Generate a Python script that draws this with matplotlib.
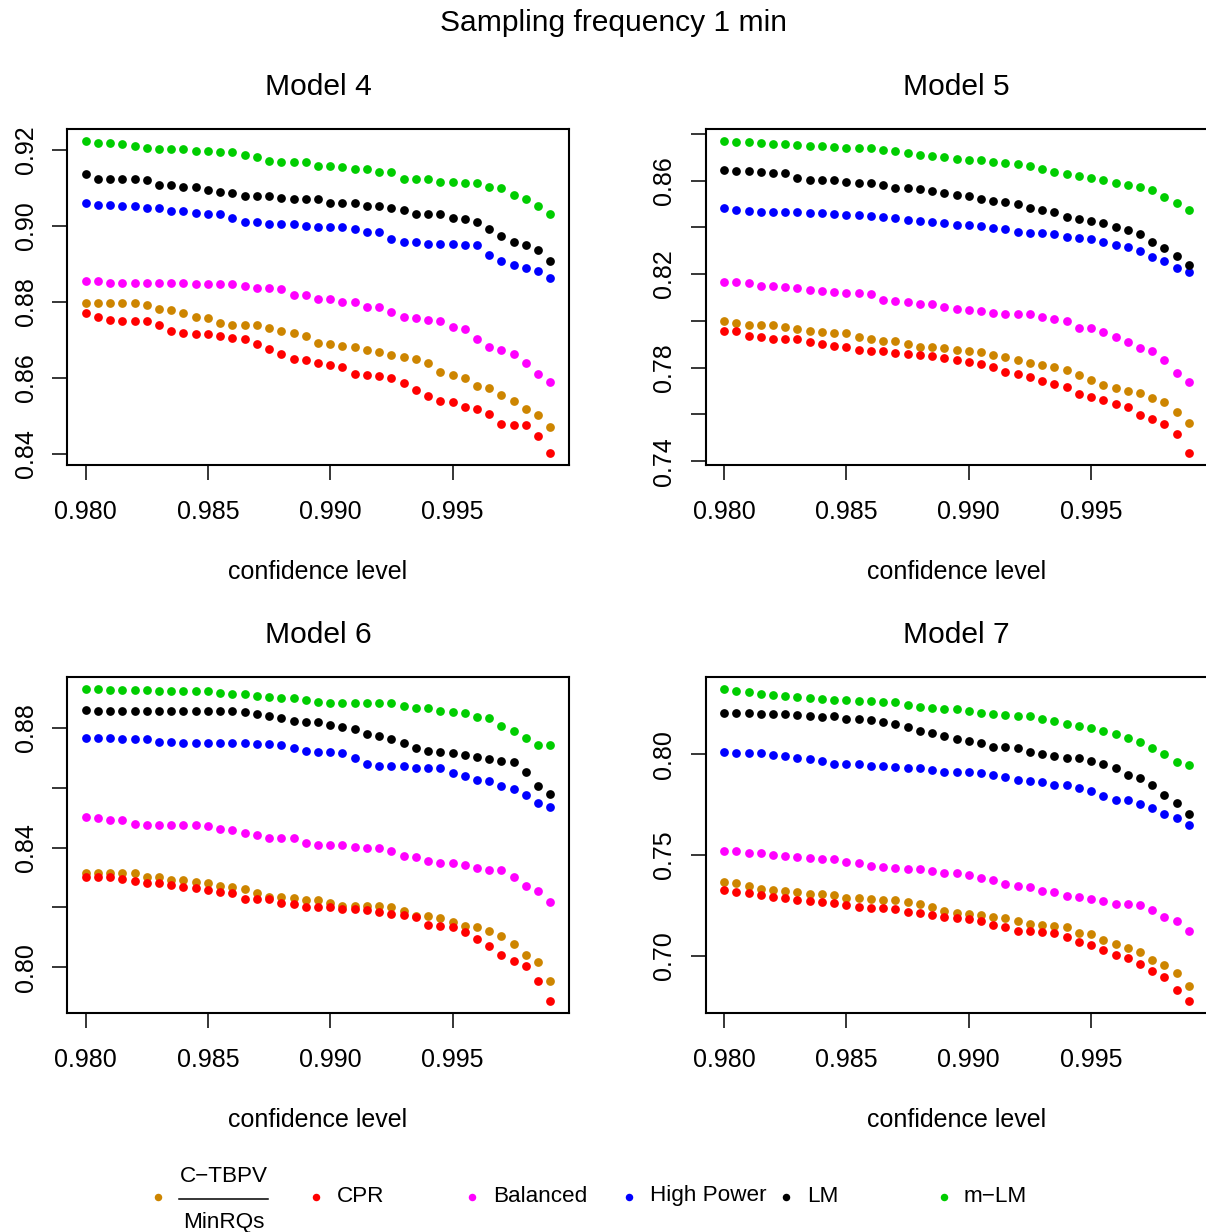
import numpy as np
import matplotlib
matplotlib.use("Agg")
import matplotlib.pyplot as plt
from matplotlib.lines import Line2D

plt.rcParams['font.family'] = ['Liberation Sans', 'DejaVu Sans']

# ---------------- data ----------------
conf_level = [0.9800, 0.9805, 0.9810, 0.9815, 0.9820, 0.9825, 0.9830, 0.9835,
              0.9840, 0.9845, 0.9850, 0.9855, 0.9860, 0.9865, 0.9870, 0.9875,
              0.9880, 0.9885, 0.9890, 0.9895, 0.9900, 0.9905, 0.9910, 0.9915,
              0.9920, 0.9925, 0.9930, 0.9935, 0.9940, 0.9945, 0.9950, 0.9955,
              0.9960, 0.9965, 0.9970, 0.9975, 0.9980, 0.9985, 0.9990]

series_names = ["C\u2212TBPV/MinRQs", "CPR", "Balanced", "High Power", "LM", "m\u2212LM"]
series_colors = ["#CD8500", "#FF0000", "#FF00FF", "#0000FF", "#000000", "#00CD00"]
model_titles = ["Model 4", "Model 5", "Model 6", "Model 7"]

# Model 4
m4_ctbpv = [0.8797, 0.8797, 0.8797, 0.8797, 0.8797, 0.8792, 0.8782, 0.8779, 0.8770, 0.8761,
            0.8757, 0.8744, 0.8740, 0.8740, 0.8740, 0.8732, 0.8723, 0.8719, 0.8710, 0.8693,
            0.8689, 0.8685, 0.8680, 0.8672, 0.8668, 0.8659, 0.8655, 0.8650, 0.8638, 0.8616,
            0.8608, 0.8599, 0.8578, 0.8574, 0.8556, 0.8538, 0.8518, 0.8501, 0.8471]
m4_cpr = [0.8770, 0.8761, 0.8752, 0.8749, 0.8749, 0.8749, 0.8740, 0.8723, 0.8719, 0.8715,
          0.8715, 0.8710, 0.8706, 0.8701, 0.8689, 0.8676, 0.8663, 0.8650, 0.8647, 0.8638,
          0.8634, 0.8629, 0.8611, 0.8608, 0.8604, 0.8599, 0.8586, 0.8569, 0.8552, 0.8538,
          0.8535, 0.8523, 0.8518, 0.8505, 0.8479, 0.8476, 0.8476, 0.8446, 0.8403]
m4_bal = [0.8855, 0.8855, 0.8851, 0.8851, 0.8851, 0.8851, 0.8851, 0.8851, 0.8851, 0.8847,
          0.8847, 0.8847, 0.8847, 0.8843, 0.8838, 0.8838, 0.8834, 0.8817, 0.8817, 0.8808,
          0.8808, 0.8800, 0.8800, 0.8787, 0.8787, 0.8774, 0.8761, 0.8757, 0.8752, 0.8749,
          0.8735, 0.8728, 0.8701, 0.8680, 0.8672, 0.8663, 0.8638, 0.8611, 0.8590]
m4_hp = [0.9061, 0.9056, 0.9056, 0.9052, 0.9052, 0.9048, 0.9048, 0.9040, 0.9040, 0.9035,
         0.9031, 0.9031, 0.9022, 0.9010, 0.9010, 0.9005, 0.9005, 0.9005, 0.9001, 0.8997,
         0.8997, 0.8997, 0.8992, 0.8984, 0.8984, 0.8967, 0.8958, 0.8958, 0.8953, 0.8953,
         0.8953, 0.8950, 0.8950, 0.8924, 0.8907, 0.8898, 0.8889, 0.8881, 0.8863]
m4_lm = [0.9138, 0.9125, 0.9125, 0.9125, 0.9125, 0.9121, 0.9108, 0.9108, 0.9104, 0.9104,
         0.9095, 0.9091, 0.9087, 0.9078, 0.9078, 0.9078, 0.9074, 0.9070, 0.9070, 0.9070,
         0.9061, 0.9061, 0.9061, 0.9052, 0.9052, 0.9048, 0.9043, 0.9031, 0.9031, 0.9031,
         0.9022, 0.9019, 0.9010, 0.8992, 0.8975, 0.8958, 0.8950, 0.8937, 0.8907]
m4_mlm = [0.9223, 0.9219, 0.9219, 0.9215, 0.9211, 0.9206, 0.9202, 0.9202, 0.9202, 0.9198,
          0.9198, 0.9195, 0.9195, 0.9186, 0.9181, 0.9172, 0.9168, 0.9168, 0.9168, 0.9159,
          0.9159, 0.9155, 0.9151, 0.9151, 0.9143, 0.9143, 0.9125, 0.9125, 0.9125, 0.9117,
          0.9117, 0.9114, 0.9114, 0.9104, 0.9100, 0.9081, 0.9070, 0.9052, 0.9031]

# Model 5
m5_ctbpv = [0.7999, 0.7991, 0.7984, 0.7984, 0.7984, 0.7973, 0.7966, 0.7957, 0.7951, 0.7947,
            0.7946, 0.7933, 0.7923, 0.7916, 0.7916, 0.7903, 0.7890, 0.7889, 0.7883, 0.7874,
            0.7871, 0.7866, 0.7853, 0.7846, 0.7831, 0.7819, 0.7813, 0.7804, 0.7791, 0.7770,
            0.7747, 0.7724, 0.7714, 0.7701, 0.7690, 0.7671, 0.7654, 0.7609, 0.7564]
m5_cpr = [0.7957, 0.7956, 0.7937, 0.7929, 0.7923, 0.7921, 0.7921, 0.7911, 0.7900, 0.7894,
          0.7887, 0.7876, 0.7873, 0.7870, 0.7863, 0.7860, 0.7856, 0.7850, 0.7840, 0.7833,
          0.7824, 0.7814, 0.7801, 0.7783, 0.7774, 0.7761, 0.7744, 0.7730, 0.7717, 0.7687,
          0.7673, 0.7661, 0.7643, 0.7633, 0.7597, 0.7580, 0.7559, 0.7516, 0.7437]
m5_bal = [0.8166, 0.8166, 0.8161, 0.8151, 0.8147, 0.8144, 0.8140, 0.8133, 0.8129, 0.8123,
          0.8119, 0.8119, 0.8113, 0.8091, 0.8083, 0.8080, 0.8071, 0.8071, 0.8059, 0.8051,
          0.8047, 0.8044, 0.8033, 0.8031, 0.8031, 0.8029, 0.8017, 0.8009, 0.8001, 0.7971,
          0.7969, 0.7953, 0.7931, 0.7909, 0.7884, 0.7873, 0.7833, 0.7776, 0.7737]
m5_hp = [0.8481, 0.8476, 0.8469, 0.8467, 0.8467, 0.8467, 0.8464, 0.8460, 0.8460, 0.8456,
         0.8453, 0.8453, 0.8449, 0.8444, 0.8440, 0.8430, 0.8429, 0.8421, 0.8417, 0.8410,
         0.8409, 0.8404, 0.8397, 0.8391, 0.8380, 0.8376, 0.8376, 0.8373, 0.8357, 0.8356,
         0.8351, 0.8337, 0.8326, 0.8316, 0.8300, 0.8273, 0.8256, 0.8226, 0.8210]
m5_lm = [0.8647, 0.8641, 0.8639, 0.8636, 0.8630, 0.8630, 0.8609, 0.8604, 0.8603, 0.8601,
         0.8593, 0.8591, 0.8591, 0.8580, 0.8569, 0.8566, 0.8563, 0.8557, 0.8546, 0.8539,
         0.8533, 0.8523, 0.8513, 0.8510, 0.8501, 0.8481, 0.8476, 0.8467, 0.8444, 0.8437,
         0.8429, 0.8419, 0.8401, 0.8387, 0.8371, 0.8339, 0.8310, 0.8279, 0.8240]
m5_mlm = [0.8767, 0.8766, 0.8764, 0.8761, 0.8757, 0.8756, 0.8750, 0.8746, 0.8746, 0.8743,
          0.8741, 0.8740, 0.8737, 0.8730, 0.8727, 0.8717, 0.8710, 0.8704, 0.8699, 0.8693,
          0.8687, 0.8687, 0.8681, 0.8676, 0.8670, 0.8663, 0.8651, 0.8637, 0.8629, 0.8619,
          0.8610, 0.8604, 0.8590, 0.8581, 0.8574, 0.8561, 0.8530, 0.8504, 0.8476]

# Model 6
m6_ctbpv = [0.8316, 0.8316, 0.8316, 0.8316, 0.8316, 0.8302, 0.8302, 0.8293, 0.8293, 0.8284,
            0.8280, 0.8271, 0.8267, 0.8262, 0.8249, 0.8235, 0.8235, 0.8231, 0.8226, 0.8226,
            0.8213, 0.8204, 0.8204, 0.8204, 0.8204, 0.8200, 0.8187, 0.8170, 0.8170, 0.8165,
            0.8152, 0.8139, 0.8135, 0.8122, 0.8104, 0.8078, 0.8040, 0.8018, 0.7955]
m6_cpr = [0.8303, 0.8303, 0.8300, 0.8296, 0.8287, 0.8282, 0.8282, 0.8273, 0.8269, 0.8264,
          0.8257, 0.8252, 0.8248, 0.8228, 0.8228, 0.8228, 0.8214, 0.8210, 0.8201, 0.8201,
          0.8201, 0.8196, 0.8196, 0.8192, 0.8183, 0.8178, 0.8174, 0.8166, 0.8142, 0.8137,
          0.8133, 0.8116, 0.8094, 0.8072, 0.8039, 0.8021, 0.8004, 0.7954, 0.7888]
m6_bal = [0.8502, 0.8498, 0.8493, 0.8493, 0.8480, 0.8476, 0.8476, 0.8476, 0.8476, 0.8476,
          0.8472, 0.8463, 0.8459, 0.8450, 0.8441, 0.8433, 0.8433, 0.8433, 0.8416, 0.8407,
          0.8407, 0.8407, 0.8403, 0.8398, 0.8398, 0.8390, 0.8373, 0.8368, 0.8356, 0.8347,
          0.8347, 0.8343, 0.8330, 0.8326, 0.8326, 0.8300, 0.8271, 0.8253, 0.8219]
m6_hp = [0.8767, 0.8767, 0.8767, 0.8763, 0.8763, 0.8763, 0.8754, 0.8754, 0.8750, 0.8750,
         0.8750, 0.8750, 0.8750, 0.8750, 0.8745, 0.8745, 0.8742, 0.8733, 0.8724, 0.8720,
         0.8720, 0.8715, 0.8698, 0.8681, 0.8674, 0.8674, 0.8674, 0.8666, 0.8666, 0.8666,
         0.8648, 0.8638, 0.8625, 0.8621, 0.8605, 0.8596, 0.8576, 0.8550, 0.8537]
m6_lm = [0.8860, 0.8858, 0.8858, 0.8858, 0.8858, 0.8858, 0.8858, 0.8858, 0.8858, 0.8858,
         0.8858, 0.8858, 0.8858, 0.8854, 0.8848, 0.8839, 0.8832, 0.8823, 0.8820, 0.8820,
         0.8811, 0.8802, 0.8798, 0.8781, 0.8772, 0.8763, 0.8751, 0.8733, 0.8724, 0.8720,
         0.8715, 0.8711, 0.8703, 0.8695, 0.8691, 0.8686, 0.8652, 0.8605, 0.8579]
m6_mlm = [0.8929, 0.8929, 0.8926, 0.8926, 0.8926, 0.8926, 0.8923, 0.8923, 0.8923, 0.8923,
          0.8923, 0.8918, 0.8914, 0.8914, 0.8907, 0.8904, 0.8899, 0.8899, 0.8893, 0.8887,
          0.8884, 0.8884, 0.8884, 0.8884, 0.8884, 0.8884, 0.8875, 0.8866, 0.8866, 0.8858,
          0.8854, 0.8849, 0.8836, 0.8832, 0.8806, 0.8789, 0.8767, 0.8742, 0.8742]

# Model 7
m7_ctbpv = [0.7369, 0.7361, 0.7349, 0.7331, 0.7328, 0.7320, 0.7315, 0.7305, 0.7305, 0.7300,
            0.7288, 0.7286, 0.7281, 0.7276, 0.7276, 0.7265, 0.7257, 0.7243, 0.7225, 0.7215,
            0.7209, 0.7204, 0.7195, 0.7189, 0.7171, 0.7159, 0.7152, 0.7149, 0.7141, 0.7113,
            0.7108, 0.7078, 0.7061, 0.7041, 0.7020, 0.6978, 0.6954, 0.6917, 0.6848]
m7_cpr = [0.7326, 0.7315, 0.7310, 0.7303, 0.7293, 0.7285, 0.7276, 0.7270, 0.7265, 0.7263,
          0.7253, 0.7243, 0.7240, 0.7237, 0.7232, 0.7219, 0.7212, 0.7205, 0.7195, 0.7190,
          0.7182, 0.7171, 0.7154, 0.7142, 0.7124, 0.7123, 0.7118, 0.7114, 0.7096, 0.7070,
          0.7056, 0.7031, 0.7005, 0.6988, 0.6959, 0.6925, 0.6896, 0.6831, 0.6778]
m7_bal = [0.7522, 0.7520, 0.7512, 0.7512, 0.7500, 0.7495, 0.7492, 0.7488, 0.7483, 0.7482,
          0.7465, 0.7462, 0.7445, 0.7440, 0.7434, 0.7430, 0.7430, 0.7419, 0.7412, 0.7412,
          0.7401, 0.7386, 0.7376, 0.7359, 0.7346, 0.7343, 0.7320, 0.7316, 0.7295, 0.7291,
          0.7280, 0.7270, 0.7258, 0.7258, 0.7253, 0.7230, 0.7195, 0.7171, 0.7124]
m7_hp = [0.8012, 0.8008, 0.8005, 0.8005, 0.7997, 0.7992, 0.7983, 0.7977, 0.7969, 0.7955,
         0.7955, 0.7955, 0.7944, 0.7942, 0.7940, 0.7935, 0.7932, 0.7921, 0.7914, 0.7914,
         0.7912, 0.7906, 0.7897, 0.7886, 0.7873, 0.7866, 0.7861, 0.7849, 0.7846, 0.7833,
         0.7821, 0.7795, 0.7776, 0.7775, 0.7753, 0.7732, 0.7704, 0.7687, 0.7651]
m7_lm = [0.8207, 0.8207, 0.8205, 0.8202, 0.8200, 0.8200, 0.8195, 0.8190, 0.8187, 0.8189,
         0.8177, 0.8175, 0.8169, 0.8162, 0.8152, 0.8137, 0.8119, 0.8109, 0.8091, 0.8076,
         0.8065, 0.8058, 0.8038, 0.8038, 0.8031, 0.8012, 0.8002, 0.7993, 0.7983, 0.7982,
         0.7969, 0.7954, 0.7932, 0.7899, 0.7884, 0.7849, 0.7800, 0.7758, 0.7702]
m7_mlm = [0.8323, 0.8315, 0.8308, 0.8301, 0.8296, 0.8290, 0.8283, 0.8280, 0.8275, 0.8272,
          0.8270, 0.8268, 0.8268, 0.8263, 0.8262, 0.8248, 0.8235, 0.8232, 0.8227, 0.8224,
          0.8214, 0.8207, 0.8202, 0.8194, 0.8189, 0.8189, 0.8175, 0.8166, 0.8151, 0.8142,
          0.8134, 0.8116, 0.8101, 0.8083, 0.8060, 0.8033, 0.8003, 0.7964, 0.7949]

x_ticks = [0.980, 0.985, 0.990, 0.995]
x_ticklabels = ["0.980", "0.985", "0.990", "0.995"]

y_ticks = [
    [0.84, 0.86, 0.88, 0.90, 0.92],
    [0.74, 0.76, 0.78, 0.80, 0.82, 0.84, 0.86, 0.88],
    [0.80, 0.82, 0.84, 0.86, 0.88],
    [0.70, 0.75, 0.80],
]
y_ticklabels = [
    ["0.84", "0.86", "0.88", "0.90", "0.92"],
    ["0.74", "", "0.78", "", "0.82", "", "0.86", ""],
    ["0.80", "", "0.84", "", "0.88"],
    ["0.70", "0.75", "0.80"],
]

models = [
    [m4_ctbpv, m4_cpr, m4_bal, m4_hp, m4_lm, m4_mlm],
    [m5_ctbpv, m5_cpr, m5_bal, m5_hp, m5_lm, m5_mlm],
    [m6_ctbpv, m6_cpr, m6_bal, m6_hp, m6_lm, m6_mlm],
    [m7_ctbpv, m7_cpr, m7_bal, m7_hp, m7_lm, m7_mlm],
]

# ---------------- layout ----------------
W, H = 1206, 1232
fig = plt.figure(figsize=(W / 100, H / 100), dpi=100)

lefts = [67, 705.5, 67, 705.5]
tops = [129, 129, 677, 677]
pw, ph = 502, 336

BASE = 18
for i, (title, series) in enumerate(zip(model_titles, models)):
    ax = fig.add_axes([lefts[i] / W, 1 - (tops[i] + ph) / H, pw / W, ph / H])
    for vals, col in zip(series, series_colors):
        ax.plot(conf_level, vals, linestyle='none', marker='o', ms=6.3,
                mew=0, color=col)
    allv = np.concatenate([np.asarray(s) for s in series])
    lo, hi = allv.min(), allv.max()
    pad = 0.04 * (hi - lo)
    ax.set_ylim(lo - pad, hi + pad)
    xl, xh = min(conf_level), max(conf_level)
    xpad = 0.04 * (xh - xl)
    ax.set_xlim(xl - xpad, xh + xpad)

    ax.set_xticks(x_ticks, x_ticklabels)
    ax.set_yticks(y_ticks[i], y_ticklabels[i])
    ax.tick_params(axis='both', direction='out', length=11, width=1.1,
                   labelsize=BASE, color='black')
    ax.tick_params(axis='x', pad=14)
    ax.tick_params(axis='y', pad=10)
    plt.setp(ax.get_yticklabels(), rotation=90, va='center')
    for sp in ax.spines.values():
        sp.set_linewidth(1.5)
        sp.set_color('black')

    ax.set_xlabel("confidence level", fontsize=BASE)
    ax.xaxis.set_label_coords(0.5, -(572 - 465) / ph)
    ax.xaxis.label.set_va('center')
    ax.set_title(title, fontsize=21.6, y=1 + 34 / ph, va='center')

fig.text(614 / W, 1 - 23 / H, "Sampling frequency 1 min", ha='center',
         va='center', fontsize=21.6)

# ---------------- legend ----------------
leg_y = 1197
dot_x = [158, 316, 472, 629, 786, 944]
txt_x = [179, 337, 493, 650, 807, 964]
LFS = 16.2
for k, (name, col) in enumerate(zip(series_names, series_colors)):
    fig.add_artist(Line2D([dot_x[k] / W], [1 - leg_y / H], linestyle='none',
                          marker='o', ms=5.4, mew=0, color=col,
                          transform=fig.transFigure))
    if k == 0:
        num, den = name.split("/")
        cx = 223.5
        fig.text(cx / W, 1 - 1176 / H, num, ha='center', va='center', fontsize=LFS)
        fig.add_artist(Line2D([179 / W, 268 / W], [1 - 1199 / H, 1 - 1199 / H],
                              color='black', lw=1.1, transform=fig.transFigure))
        fig.text(cx / W, 1 - 1228 / H, den, ha='center', va='baseline', fontsize=LFS)
    else:
        fig.text(txt_x[k] / W, 1 - (leg_y - 1) / H, name, ha='left', va='center',
                 fontsize=LFS)

fig.savefig("out.png", dpi=100)
